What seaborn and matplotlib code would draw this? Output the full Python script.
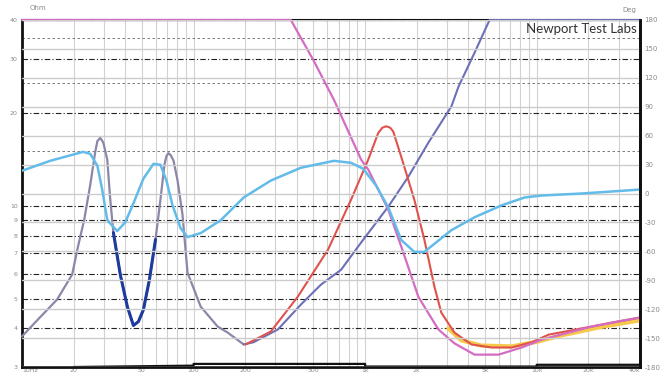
import matplotlib
matplotlib.use("Agg")
import matplotlib.pyplot as plt
from matplotlib.ticker import NullFormatter, FixedLocator, FixedFormatter, LogLocator
import numpy as np
import pandas as pd
import seaborn as sns

# impedance (ohm, left log axis) and phase (deg, right axis) vs frequency (Hz)
phase_freq = [10, 14.6, 22.7, 25.0, 27.5, 29.4, 31.4, 35.9, 40.0, 44.6,
              51.0, 58.4, 64.1, 69.5, 75.4, 84.0, 92.2, 110, 144, 196,
              282, 422, 659, 828, 973, 1159, 1364, 1624, 1935, 2213,
              3184, 4339, 6240, 8510, 10700, 18300, 27500, 40000]
phase_deg = [23.6, 33.9, 43.2, 41.1, 28.8, 3.1, -27.7, -39.0, -29.8, -10.3,
             15.4, 30.8, 29.8, 13.4, -12.3, -36.0, -45.2, -41.1, -27.7, -4.1,
             13.4, 26.7, 33.9, 31.8, 25.7, 8.2, -14.4, -48.3, -60.6, -60.6,
             -38.0, -24.7, -12.3, -4.1, -2.1, 0.0, 2.1, 4.1]

total_freq = [10, 12.7, 16.0, 19.6, 21.2, 23.05, 25.0, 26.7, 27.5, 28.6,
              29.8, 31.4, 32.7, 34.1, 37.4, 41.1, 44.6, 47.7, 51.0, 55.3,
              60.0, 64.1, 67.7, 69.5, 71.4, 73.5, 76.4, 80.6, 86.2, 92.2,
              110, 138, 158, 196]
total_ohm = [3.77, 4.34, 4.96, 5.98, 7.37, 9.01, 11.7, 14.9, 16.2, 16.6,
             16.0, 14.1, 10.46, 8.18, 5.98, 4.71, 4.09, 4.21, 4.6, 5.76,
             7.77, 10.46, 13.6, 14.5, 14.8, 14.6, 14.0, 12.1, 9.35, 6.07,
             4.71, 4.06, 3.88, 3.55]

rise_freq = [196, 224, 310, 422, 553, 724, 948, 1364, 1783, 2335,
             3184, 3498, 4339, 5310, 40000]
rise_ohm = [3.55, 3.61, 3.97, 4.78, 5.55, 6.2, 7.6, 9.93, 12.4, 16.0,
            21.0, 24.3, 31.3, 40, 40]

dip_freq = [34.1, 37.4, 41.1, 44.6, 47.7, 51.0, 55.3, 60.0]
dip_ohm = [8.18, 5.98, 4.71, 4.09, 4.21, 4.6, 5.76, 7.77]

red_freq = [201, 282, 405, 608, 828, 1042, 1191, 1260, 1327, 1400,
            1458, 1624, 1935, 2213, 2533, 2780, 3313, 4168, 5455, 7143,
            9350, 11750, 21000, 29400, 40000]
red_ohm = [3.55, 3.91, 5.07, 7.21, 10.46, 14.1, 17.2, 17.9, 18.1, 17.9,
           17.4, 14.4, 10.46, 7.77, 5.47, 4.50, 3.88, 3.55, 3.47, 3.47,
           3.61, 3.82, 4.06, 4.21, 4.34]

mag_freq = [10, 369, 500, 659, 948, 1042, 1364, 1624, 2042, 2213,
            2673, 3313, 4339, 5995, 8170, 10700, 21000, 40000]
mag_ohm = [40, 40, 29.6, 22.0, 14.1, 13.1, 9.71, 7.37, 5.07, 4.71,
           3.97, 3.58, 3.29, 3.29, 3.47, 3.68, 4.06, 4.34]

yel_freq = [3056, 3640, 4767, 7143, 10000, 14000, 24000, 40000]
yel_ohm = [4.0, 3.66, 3.52, 3.50, 3.62, 3.80, 4.05, 4.25]

base_freq = [20, 100, 100, 1000, 1000, 10000, 10000, 40000]
base_ohm = [3.0, 3.03, 3.07, 3.07, 3.01, 3.01, 3.05, 3.05]

x_ticks = [10, 20, 50, 100, 200, 500, 1000, 2000, 5000, 10000, 20000, 40000]
x_labels = ["10Hz", "20", "50", "100", "200", "500", "1k", "2k", "5k", "10k", "20k", "40k"]
ohm_ticks = [3, 4, 5, 6, 7, 8, 9, 10, 20, 30, 40]
deg_ticks = list(range(-180, 181, 30))

sns.set_theme(style="white")
plt.rcParams["font.family"] = ["DejaVu Sans"]

fig = plt.figure(figsize=(6.6, 3.76), dpi=100)
ax = fig.add_axes([22 / 660, 9 / 376, 618 / 660, 347 / 376])

curves = [
    (base_freq, base_ohm, "#111111", 1.6),
    (total_freq, total_ohm, "#8c86a8", 1.6),
    (rise_freq, rise_ohm, "#6d70b6", 1.5),
    (yel_freq, yel_ohm, "#f6c94c", 3.0),
    (red_freq, red_ohm, "#e0524c", 1.5),
    (mag_freq, mag_ohm, "#d46cc4", 1.6),
    (dip_freq, dip_ohm, "#1d3a9e", 2.2),
]
for fr, vals, col, lw in curves:
    df = pd.DataFrame({"freq": fr, "ohm": vals})
    sns.lineplot(data=df, x="freq", y="ohm", ax=ax, color=col, lw=lw,
                 estimator=None, sort=False, clip_on=False, zorder=3)

ax.set_xlabel("")
ax.set_ylabel("")

ax2 = ax.twinx()
pdf = pd.DataFrame({"freq": phase_freq, "deg": phase_deg})
sns.lineplot(data=pdf, x="freq", y="deg", ax=ax2, color="#62bbe8", lw=1.8,
             estimator=None, sort=False)
ax2.set_ylim(-180, 180)
ax2.set_yticks(deg_ticks)
ax2.set_yticklabels([str(t) for t in deg_ticks])
ax2.set_ylabel("")
ax2.set_xlabel("")

ax.set_xscale("log")
ax.set_yscale("log")
ax.set_xlim(10, 40000)
ax.set_ylim(3, 40)
ax.xaxis.set_major_locator(FixedLocator(x_ticks))
ax.xaxis.set_major_formatter(FixedFormatter(x_labels))
ax.xaxis.set_minor_locator(LogLocator(base=10, subs=np.arange(1, 10)))
ax.xaxis.set_minor_formatter(NullFormatter())
ax.set_yticks(ohm_ticks)
ax.set_yticklabels([str(t) for t in ohm_ticks])
ax.set_yticks([15, 25, 35], minor=True)
ax.yaxis.set_minor_formatter(NullFormatter())
ax.grid(axis="x", which="both", color="#d2d2d2", lw=0.8, ls="-")
ax.grid(axis="y", which="major", color="#222222", lw=0.8, ls=(0, (5, 2, 1, 2)))
ax.grid(axis="y", which="minor", color="#666666", lw=0.6, ls=(0, (3, 3)))
ax.set_axisbelow(True)
ax.tick_params(which="both", length=0, labelsize=4.5, labelcolor="#8a8a8a", pad=1)
ax.tick_params(axis="y", pad=3)
fig.canvas.draw()
xl = ax.get_xticklabels()
xl[0].set_horizontalalignment("left")
xl[-1].set_horizontalalignment("right")
for side in ["left", "bottom", "right"]:
    ax.spines[side].set_color("#111111")
    ax.spines[side].set_linewidth(2)
ax.spines["top"].set_color("#111111")
ax.spines["top"].set_linewidth(1.5)

# dashed vertical overlay like the scanned grid
for xv in ax.xaxis.get_minorticklocs():
    if 10 <= xv <= 40000:
        ax.axvline(xv, color="#333333", lw=0.6, ls=(0, (2, 3)), zorder=0.5)

ax2.grid(axis="y", color="#cccccc", lw=1.0)
ax2.set_axisbelow(True)
ax2.tick_params(length=0, labelsize=5, labelcolor="#8a8a8a", pad=3)
for side in ["left", "bottom", "top"]:
    ax2.spines[side].set_visible(False)
ax2.spines["right"].set_color("#111111")
ax2.spines["right"].set_linewidth(2)

fig.text(30 / 660, 1 - 8 / 376, "Ohm", fontsize=5, color="#8a8a8a", va="center")
fig.text(622 / 660, 1 - 10 / 376, "Deg", fontsize=5, color="#8a8a8a", va="center")
ax.text(0.995, 0.99, "Newport Test Labs", transform=ax.transAxes, ha="right",
        va="top", fontsize=9.5, color="#333333", family=["Lato", "DejaVu Sans"])

fig.savefig("out.png", dpi=100)
